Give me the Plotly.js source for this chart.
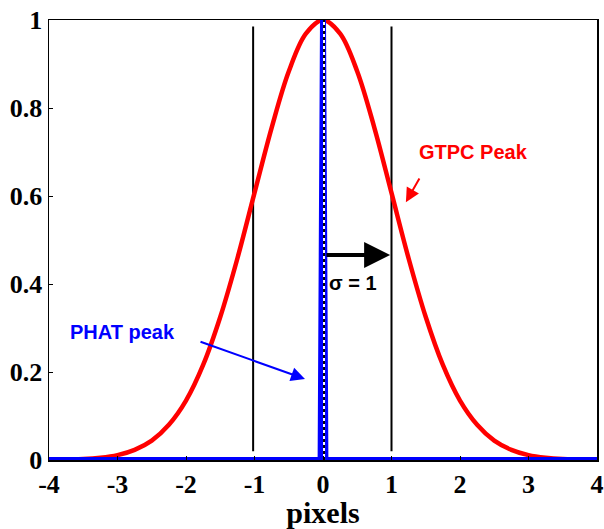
<!DOCTYPE html>
<html>
<head>
<meta charset="utf-8">
<script src="https://cdn.plot.ly/plotly-3.0.1.min.js"></script>
<style>
  html, body { margin: 0; padding: 0; background: #fff; }
  #chart { width: 604px; height: 529px; }
</style>
</head>
<body>
<div id="chart"></div>
<script>
// GTPC correlation peak (unit-width Gaussian), sampled in pixels
const gtpcX = [-4, -3.75, -3.5, -3.25, -3, -2.75, -2.5, -2.25, -2, -1.75, -1.5, -1.25, -1, -0.75, -0.5, -0.25,
               0, 0.25, 0.5, 0.75, 1, 1.25, 1.5, 1.75, 2, 2.25, 2.5, 2.75, 3, 3.25, 3.5, 3.75, 4];
const gtpcY = [0.000, 0.001, 0.002, 0.005, 0.011, 0.023, 0.044, 0.080, 0.135, 0.216, 0.325, 0.458, 0.607, 0.755, 0.883, 0.969,
               1.000, 0.969, 0.883, 0.755, 0.607, 0.458, 0.325, 0.216, 0.135, 0.080, 0.044, 0.023, 0.011, 0.005, 0.002, 0.001, 0.000];

// PHAT peak: a delta-like spike at zero shift
const phatX = [-4, -0.035, 0, 0.035, 4];
const phatY = [0, 0, 1, 0, 0];

// Centre marker and the ±sigma guides
const centreX = [0.015, 0.015];
const centreY = [0, 1];
const sigmaGuideX = [-1.02, 1.0];
const sigmaGuideY = [0.02, 0.985];

// Axis ticks
const xTicks = [-4, -3, -2, -1, 0, 1, 2, 3, 4];
const xTickText = ['-4', '-3', '-2', '-1', '0', '1', '2', '3', '4'];
const yTicks = [0, 0.2, 0.4, 0.6, 0.8, 1];
const yTickText = ['0', '0.2', '0.4', '0.6', '0.8', '1'];

const serif = 'Liberation Serif';
const bold = function (s) { return '<b>' + s + '</b>'; };

const traces = [];

sigmaGuideX.forEach(function (gx) {
  traces.push({
    x: [gx, gx], y: sigmaGuideY, mode: 'lines',
    line: { color: '#000', width: 2 }, hoverinfo: 'skip', showlegend: false
  });
});

traces.push({
  x: gtpcX, y: gtpcY, mode: 'lines', name: 'GTPC',
  line: { color: '#ff0000', width: 4.5, shape: 'spline' }, showlegend: false
});

traces.push({
  x: phatX, y: phatY, mode: 'lines', name: 'PHAT',
  line: { color: '#0000ff', width: 6 }, showlegend: false
});

traces.push({
  x: centreX, y: centreY, mode: 'lines',
  line: { color: '#ffffff', width: 2 }, hoverinfo: 'skip', showlegend: false
});
traces.push({
  x: centreX, y: centreY, mode: 'lines',
  line: { color: '#000000', width: 2, dash: '3px,3px' }, hoverinfo: 'skip', showlegend: false
});

const annFont = { family: 'Liberation Sans', size: 20 };
const tickFont = { family: serif, size: 26, color: '#000' };

const layout = {
  width: 604, height: 529,
  margin: { l: 49, r: 7, t: 20, b: 69 },
  paper_bgcolor: '#fff', plot_bgcolor: '#fff',
  showlegend: false,
  xaxis: {
    range: [-4, 4], tickmode: 'array', tickvals: xTicks, ticktext: xTickText.map(bold),
    ticks: 'inside', ticklen: 4, tickwidth: 1, tickcolor: '#000',
    showline: true, linecolor: '#000', linewidth: 1.5, mirror: true,
    showgrid: false, zeroline: false,
    tickfont: tickFont,
    title: { text: bold('pixels'), font: { family: serif, size: 30, color: '#000' }, standoff: 6 }
  },
  yaxis: {
    range: [0, 1], tickmode: 'array', tickvals: yTicks, ticktext: yTickText.map(bold),
    ticks: 'inside', ticklen: 4, tickwidth: 1, tickcolor: '#000',
    showline: true, linecolor: '#000', linewidth: 1.5, mirror: true,
    showgrid: false, zeroline: false,
    tickfont: tickFont
  },
  annotations: [
    { x: 2.20, y: 0.70, xref: 'x', yref: 'y', text: bold('GTPC Peak'), showarrow: false,
      font: Object.assign({ color: '#ff0000' }, annFont) },
    { x: 1.21, y: 0.586, ax: 1.42, ay: 0.643, axref: 'x', ayref: 'y', xref: 'x', yref: 'y',
      text: '', showarrow: true, arrowhead: 2, arrowsize: 1.4, arrowwidth: 2, arrowcolor: '#ff0000' },
    { x: -2.92, y: 0.291, xref: 'x', yref: 'y', text: bold('PHAT peak'), showarrow: false,
      font: Object.assign({ color: '#0000ff' }, annFont) },
    { x: -0.263, y: 0.184, ax: -1.81, ay: 0.270, axref: 'x', ayref: 'y', xref: 'x', yref: 'y',
      text: '', showarrow: true, arrowhead: 2, arrowsize: 1.4, arrowwidth: 2, arrowcolor: '#0000ff' },
    { x: 0.44, y: 0.402, xref: 'x', yref: 'y', text: bold('σ = 1'), showarrow: false,
      font: Object.assign({ color: '#000' }, annFont) },
    { x: 0.98, y: 0.466, ax: 0.03, ay: 0.466, axref: 'x', ayref: 'y', xref: 'x', yref: 'y',
      text: '', showarrow: true, arrowhead: 2, arrowsize: 1.3, arrowwidth: 4, arrowcolor: '#000' }
  ]
};

Plotly.newPlot('chart', traces, layout, { displayModeBar: false, staticPlot: true });
</script>
</body>
</html>
